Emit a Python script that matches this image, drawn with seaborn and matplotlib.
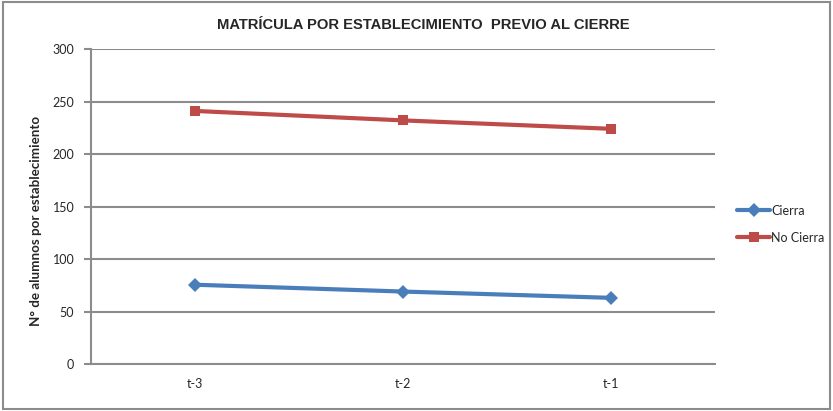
import matplotlib
matplotlib.use("Agg")
import matplotlib.pyplot as plt
import seaborn as sns
import pandas as pd
from matplotlib.patches import Rectangle
from matplotlib.lines import Line2D

periods = ["t-3", "t-2", "t-1"]
cierra = [75.5, 69, 63]
no_cierra = [241, 232, 224]
series_names = ["Cierra", "No Cierra"]
y_ticks = [0, 50, 100, 150, 200, 250, 300]

df = pd.DataFrame({
    "Periodo": periods * 2,
    "Valor": cierra + no_cierra,
    "Serie": [series_names[0]] * 3 + [series_names[1]] * 3,
})

sns.set_theme(style="white")
plt.rcParams['font.family'] = ['Lato', 'DejaVu Sans']

fig = plt.figure(figsize=(8.33, 4.11), dpi=100)
ax = fig.add_axes([91/833, 1-364/411, (715-91)/833, (364-49)/411])

palette = {"Cierra": "#4A7EBB", "No Cierra": "#BE4B48"}
markers = {"Cierra": "D", "No Cierra": "s"}
sns.lineplot(data=df, x="Periodo", y="Valor", hue="Serie", style="Serie",
             palette=palette, markers=markers, dashes=False, sort=False,
             linewidth=3, markersize=7.5, markeredgewidth=0, ax=ax, legend=False, zorder=3)

ax.set_xlim(-0.5, 2.5)
ax.set_ylim(0, 300)
ax.set_yticks(y_ticks)
ax.yaxis.grid(True, color="#8c8c8c", linewidth=1.5)
ax.set_axisbelow(True)
for s in ["top", "right"]:
    ax.spines[s].set_visible(False)
for s in ["left", "bottom"]:
    ax.spines[s].set_color("#8c8c8c")
    ax.spines[s].set_linewidth(1.5)
ax.tick_params(axis="y", which="major", length=5, width=1.5, color="#8c8c8c",
               direction="out", left=True, labelsize=9, pad=7)
ax.tick_params(axis="x", length=0, labelsize=9, pad=10)
ax.set_xlabel("")
ax.set_ylabel("N° de alumnos por establecimiento", fontsize=9.6, fontweight="bold")
ax.yaxis.set_label_coords((42 - 91) / 624, (364 - 221) / 315)

fig.text(423/833, 1-25/411, "MATRÍCULA POR ESTABLECIMIENTO  PREVIO AL CIERRE",
         ha="center", va="center", fontsize=10.6, fontweight="bold",
         family=['Liberation Sans', 'DejaVu Sans'])

handles = [Line2D([], [], color=palette[n], marker=markers[n], linewidth=3,
                  markersize=7.5, markeredgewidth=0) for n in series_names]
fig.legend(handles, series_names, loc="center left", bbox_to_anchor=(726/833, 1-224/411),
           frameon=False, fontsize=9, handlelength=2.6, handletextpad=0.1,
           labelspacing=1.2)

fig.patches.append(Rectangle((0.004, 0.004), 0.992, 0.992, transform=fig.transFigure,
                             fill=False, edgecolor="#8c8c8c", linewidth=1.5))

fig.savefig("out.png", dpi=100)
